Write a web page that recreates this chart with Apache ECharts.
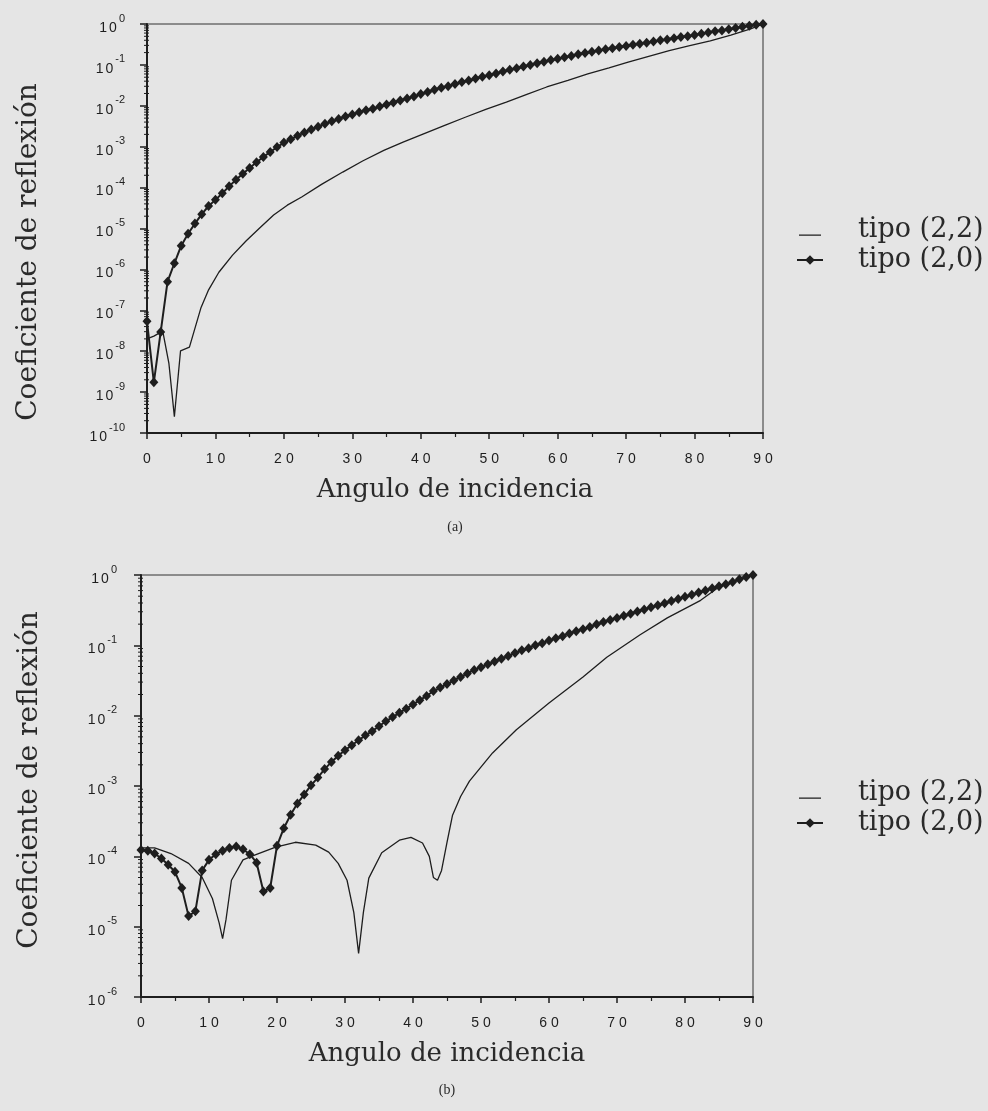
<!DOCTYPE html>
<html><head><meta charset="utf-8">
<script src="https://cdn.jsdelivr.net/npm/echarts@6/dist/echarts.min.js"></script>
<style>html,body{margin:0;padding:0;background:#e5e5e5}#c{width:988px;height:1111px}</style>
</head><body><div id="c"></div>
<script>
// ---- data (exponents of 10) ----
const anglesDeg = [0,1,2,3,4,5,6,7,8,9,10,11,12,13,14,15,16,17,18,19,20,21,22,23,24,25,26,27,28,29,30,31,32,33,34,35,36,37,38,39,40,41,42,43,44,45,46,47,48,49,50,51,52,53,54,55,56,57,58,59,60,61,62,63,64,65,66,67,68,69,70,71,72,73,74,75,76,77,78,79,80,81,82,83,84,85,86,87,88,89,90];

// (a) tipo (2,0), one point per degree
const topT20Exp = [-7.27,-8.76,-7.53,-6.3,-5.85,-5.42,-5.13,-4.88,-4.65,-4.45,-4.3,-4.14,-3.97,-3.81,-3.66,-3.52,-3.38,-3.25,-3.13,-3.01,-2.9,-2.82,-2.73,-2.65,-2.58,-2.51,-2.44,-2.38,-2.32,-2.26,-2.21,-2.16,-2.11,-2.07,-2.02,-1.97,-1.92,-1.87,-1.82,-1.77,-1.71,-1.66,-1.61,-1.56,-1.52,-1.47,-1.42,-1.38,-1.33,-1.29,-1.25,-1.21,-1.16,-1.12,-1.08,-1.04,-1.0,-0.96,-0.92,-0.88,-0.85,-0.81,-0.78,-0.74,-0.71,-0.68,-0.65,-0.62,-0.59,-0.56,-0.54,-0.51,-0.48,-0.46,-0.43,-0.40,-0.38,-0.35,-0.32,-0.30,-0.27,-0.24,-0.21,-0.18,-0.16,-0.13,-0.10,-0.07,-0.04,-0.02,0];

// (a) tipo (2,2)
const topT22X = [0,1,2.3,3.2,4,4.9,6.2,7.9,9,10.5,12.5,14.5,16.5,18.5,20.5,22.6,25.5,28.6,31.5,34.6,37.5,40.5,43.5,46.5,49.5,52.5,55.5,58.4,61.5,64.4,67.5,70.3,73.3,76.3,79.3,82.3,85.3,88.2,90];
const topT22Exp = [-7.7,-7.63,-7.51,-8.3,-9.6,-7.99,-7.9,-6.93,-6.5,-6.07,-5.65,-5.3,-4.98,-4.67,-4.43,-4.23,-3.92,-3.62,-3.35,-3.09,-2.88,-2.68,-2.48,-2.28,-2.09,-1.91,-1.72,-1.54,-1.38,-1.22,-1.07,-0.93,-0.79,-0.65,-0.53,-0.41,-0.27,-0.12,0];

// (b) tipo (2,0), one point per degree
const botT20Exp = [-3.91,-3.92,-3.96,-4.03,-4.12,-4.22,-4.45,-4.85,-4.78,-4.2,-4.05,-3.97,-3.92,-3.88,-3.86,-3.9,-3.97,-4.09,-4.5,-4.45,-3.85,-3.6,-3.41,-3.25,-3.12,-2.99,-2.88,-2.76,-2.66,-2.57,-2.49,-2.42,-2.35,-2.28,-2.22,-2.15,-2.08,-2.02,-1.96,-1.9,-1.84,-1.78,-1.72,-1.65,-1.6,-1.55,-1.5,-1.45,-1.4,-1.35,-1.31,-1.27,-1.23,-1.19,-1.15,-1.11,-1.07,-1.04,-1.0,-0.97,-0.93,-0.9,-0.87,-0.83,-0.8,-0.77,-0.74,-0.7,-0.67,-0.64,-0.61,-0.58,-0.55,-0.52,-0.49,-0.46,-0.43,-0.4,-0.37,-0.34,-0.31,-0.28,-0.25,-0.22,-0.19,-0.16,-0.13,-0.1,-0.06,-0.03,0];

// (b) tipo (2,2)
const botT22X = [0,2,4.4,7,9,10.5,11.5,12,12.5,13.3,15,16.8,19.8,22.7,25.7,27.6,29,30.3,31.3,32,32.7,33.5,35.4,38,39.7,41.4,42.4,43,43.6,44.2,45,45.8,47,48.3,51.7,55.2,60,65,68.5,73.4,77.4,82.3,85,90];
const botT22Exp = [-3.88,-3.88,-3.96,-4.1,-4.3,-4.6,-4.95,-5.17,-4.9,-4.34,-4.05,-3.98,-3.87,-3.8,-3.84,-3.94,-4.1,-4.34,-4.8,-5.38,-4.8,-4.31,-3.95,-3.77,-3.73,-3.81,-4.0,-4.3,-4.34,-4.2,-3.8,-3.42,-3.15,-2.93,-2.53,-2.2,-1.82,-1.45,-1.17,-0.85,-0.61,-0.36,-0.17,0];

const seriesNames = ['tipo (2,2)', 'tipo (2,0)'];
const xTickLabels = ['0','10','20','30','40','50','60','70','80','90'];
const yLabelTitle = 'Coeficiente de reflexión';
const xLabelTitle = 'Angulo de incidencia';
const panelLabels = ['(a)', '(b)'];
const topDecades = [-10,-9,-8,-7,-6,-5,-4,-3,-2,-1];
const botDecades = [-6,-5,-4,-3,-2,-1];
const minorMultipliers = [2,3,4,5,6,7,8,9];

// ---- helpers ----
const pairs = (xs, exps) => xs.map((x, i) => [x, Math.pow(10, exps[i])]);
const minorTickValues = decs => decs.flatMap(d => minorMultipliers.map(m => m * Math.pow(10, d)));
const INK = '#1e1e1e';
const SANS = 'Liberation Sans, Arial, sans-serif';
const SERIF = 'DejaVu Serif, serif';

function spaced(str) { return str.split('').map(ch => '{d|' + ch + '}').join(''); }
function powLabel(v) {
  const e = Math.round(Math.log10(v));
  return spaced('10') + '{s|' + e + '}';
}
const yRich = {
  d: { fontFamily: SANS, fontSize: 14, color: INK, padding: [0, 1], lineHeight: 22, verticalAlign: 'bottom' },
  s: { fontFamily: SANS, fontSize: 11, color: INK, padding: [0, 0, 0, 1], lineHeight: 22, verticalAlign: 'top' }
};
const xRich = { d: { fontFamily: SANS, fontSize: 14, color: INK, padding: [0, 2] } };

function xAxisFor(gi) {
  return {
    type: 'value', gridIndex: gi, min: 0, max: 90, interval: 10,
    name: xLabelTitle, nameLocation: 'middle', nameGap: 44,
    nameTextStyle: { fontFamily: SERIF, fontSize: 26, color: '#2a2a2a' },
    axisLine: { show: true, onZero: false, lineStyle: { color: INK, width: 2 } },
    axisTick: { show: true, inside: false, length: 6, lineStyle: { color: INK, width: 1.5 } },
    minorTick: { show: true, splitNumber: 2, length: 4, lineStyle: { color: INK, width: 1.2 } },
    splitLine: { show: false },
    axisLabel: { margin: 19, rich: xRich, formatter: v => spaced(xTickLabels[Math.round(v / 10)]) }
  };
}
function yAxisFor(gi, minV) {
  return {
    type: 'log', logBase: 10, gridIndex: gi, min: minV, max: 1, interval: 1,
    axisLine: { show: true, lineStyle: { color: INK, width: 2 } },
    axisTick: { show: true, inside: false, length: 7, lineStyle: { color: INK, width: 1.5 } },
    splitLine: { show: false },
    axisLabel: { margin: gi === 0 ? 22 : 24, rich: yRich, formatter: powLabel }
  };
}
function lineSeries(gi, data) {
  return { name: seriesNames[0], type: 'line', xAxisIndex: gi, yAxisIndex: gi, data,
    symbol: 'none', lineStyle: { color: INK, width: 1.3 }, itemStyle: { color: INK }, z: 2, animation: false };
}
function markSeries(gi, data) {
  return { name: seriesNames[1], type: 'line', xAxisIndex: gi, yAxisIndex: gi, data,
    symbol: 'diamond', symbolSize: [9, 10], showAllSymbol: true,
    lineStyle: { color: INK, width: 2 }, itemStyle: { color: INK }, z: 3, animation: false };
}
function minorTickSeries(gi, vals) {
  return { type: 'custom', xAxisIndex: gi, yAxisIndex: gi, silent: true, clip: false, animation: false, z: 6,
    data: vals.map(v => [0, v]), encode: { x: 0, y: 1 },
    renderItem: (params, api) => {
      const p = api.coord([0, api.value(1)]);
      return { type: 'line', shape: { x1: p[0] - 3, y1: p[1], x2: p[0] + 2, y2: p[1] },
        style: { stroke: INK, lineWidth: 1 } };
    } };
}
const dashIcon = 'path://M0,0L0.01,0L0,0.01Z M2,10.4h22v1.3h-22z M26,12L25.99,12L26,11.99Z';
function legendFor(topPx) {
  return {
    data: [{ name: seriesNames[0], icon: dashIcon }, { name: seriesNames[1] }],
    orient: 'vertical', left: 791, top: topPx, itemGap: 0,
    itemWidth: 26, itemHeight: 12, selectedMode: false,
    textStyle: { fontFamily: SERIF, fontSize: 27, color: '#2a2a2a', lineHeight: 30, padding: [0, 0, 0, 30] }
  };
}

const chart = echarts.init(document.getElementById('c'));
chart.setOption({
  backgroundColor: '#e5e5e5',
  animation: false,
  grid: [
    { left: 147, top: 24, width: 616, height: 409, show: true, borderColor: '#333', borderWidth: 1, backgroundColor: 'transparent' },
    { left: 141, top: 575, width: 612, height: 422, show: true, borderColor: '#333', borderWidth: 1, backgroundColor: 'transparent' }
  ],
  xAxis: [xAxisFor(0), xAxisFor(1)],
  yAxis: [yAxisFor(0, 1e-10), yAxisFor(1, 1e-6)],
  legend: [legendFor(210), legendFor(773)],
  graphic: [
    { type: 'text', x: 29, y: 252, rotation: Math.PI / 2,
      style: { text: yLabelTitle, font: '28px DejaVu Serif', fill: '#2a2a2a', textAlign: 'center', textVerticalAlign: 'middle' } },
    { type: 'text', x: 30, y: 780, rotation: Math.PI / 2,
      style: { text: yLabelTitle, font: '28px DejaVu Serif', fill: '#2a2a2a', textAlign: 'center', textVerticalAlign: 'middle' } },
    { type: 'text', x: 455, y: 527,
      style: { text: panelLabels[0], font: '14px Liberation Serif', fill: '#2a2a2a', textAlign: 'center', textVerticalAlign: 'middle' } },
    { type: 'text', x: 447, y: 1090,
      style: { text: panelLabels[1], font: '14px Liberation Serif', fill: '#2a2a2a', textAlign: 'center', textVerticalAlign: 'middle' } }
  ],
  series: [
    lineSeries(0, pairs(topT22X, topT22Exp)),
    markSeries(0, pairs(anglesDeg, topT20Exp)),
    lineSeries(1, pairs(botT22X, botT22Exp)),
    markSeries(1, pairs(anglesDeg, botT20Exp)),
    minorTickSeries(0, minorTickValues(topDecades)),
    minorTickSeries(1, minorTickValues(botDecades))
  ]
});
</script>
</body></html>
